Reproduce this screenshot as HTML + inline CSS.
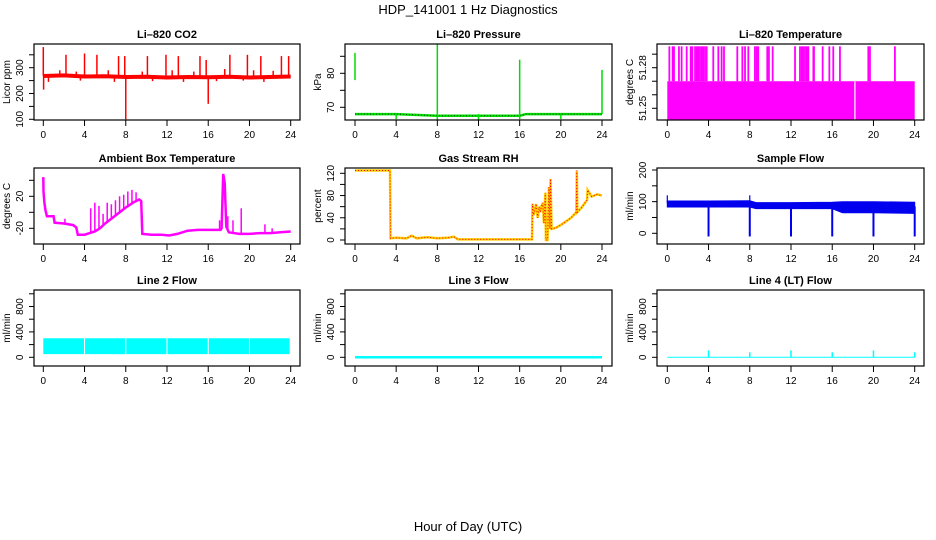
<!DOCTYPE html>
<html><head><meta charset="utf-8">
<style>
body{margin:0;background:#fff;}
svg{display:block;font-family:"Liberation Sans",sans-serif;}
.tk{font-size:10px;fill:#000;}
.ttl{font-size:11px;font-weight:bold;fill:#000;}
</style></head>
<body>
<svg id="chart" width="936" height="540" viewBox="0 0 936 540">
<text x="468" y="14" text-anchor="middle" font-size="13">HDP_141001  1 Hz Diagnostics</text>
<text x="468" y="531" text-anchor="middle" font-size="13">Hour of Day (UTC)</text>
</svg>
<script>
// ---- data ----
const xTicks=[0,4,8,12,16,20,24];
const co2Base=[[0,268],[2,270],[4,266],[6,267],[8,264],[10,265],[12,262],[14,264],[16,263],[18,265],[20,262],[22,264],[24,266]];
const co2SpikeT=[0,0.03,2.2,4,5.2,7.3,7.9,8,10.1,11.9,13.1,15.2,15.8,16,18.1,19.8,21.1,23.1,23.8,1.6,3.2,6.3,9.6,12.5,14.6,17.6,20.4,22.3,0.5,3.6,6.9,10.6,13.6,16.8,19.4,21.4];
const co2SpikeV=[380,215,350,355,350,345,345,100,345,350,345,345,330,160,350,350,345,345,345,290,285,290,285,290,285,295,290,288,245,250,245,248,245,248,250,245];
const presBase=[[0,68],[4,68],[8,67.5],[12,67.5],[16,67.5],[16.6,68],[20,68],[24,68]];
const presSpikeT=[0,8,16,24,4,12,20,8,16];
const presSpikeLo=[78,68,68,68,66.5,66.3,66.5,66.3,66.5];
const presSpikeHi=[86,88.5,84,81,68,68,68,68,68];
const ltLow=51.2417, ltMid=51.27, ltHigh=51.2958;
const ltGapT=[18.2];
const ltSpikeT=[0.2,0.52,0.65,1.13,1.39,1.88,2.27,2.43,2.69,2.85,3.01,3.17,3.33,3.49,3.66,3.82,4.46,4.95,5.27,5.5,6.79,7.28,7.54,7.86,8.5,8.66,8.82,9.7,9.86,10.22,12.39,12.87,13.03,13.2,13.36,13.52,13.68,14.17,14.23,15.07,15.72,16.1,16.75,19.5,19.66,22.08];
const ambT=[0,0.02,0.1,0.2,0.35,1.0,1.1,2.0,2.9,3.2,3.35,4.0,4.5,5.0,5.5,6.0,7.0,8.0,8.7,9.3,9.5,9.6,10.5,11.5,12.2,13.0,14.0,15.0,16.0,17.2,17.3,17.45,17.6,17.75,18.0,19.0,20.0,21.0,22.0,23.0,24.0];
const ambV=[44,26,13,3,-5,-5,-13,-14,-16,-19,-28,-28,-26,-24,-20,-14,-4,6,12,16,14,-27,-28,-28,-29,-27,-23,-22,-22,-22,-20,48,37,-18,-25,-27,-27,-26,-26,-25,-24];
const ambSpikeT=[2.1,4.6,5.0,5.4,5.8,6.2,6.6,7.0,7.4,7.8,8.2,8.6,9.0,17.1,17.9,18.4,19.2,21.5,22.2];
const ambSpikeV=[-8,5,12,8,-2,12,10,15,20,22,26,28,25,-10,-5,-10,5,-15,-20];
const rhT=[0,3.4,3.45,4,5,5.5,6,7,8,9,9.6,10,12,14,16,17.2,17.25,17.35,17.5,17.6,17.75,17.9,18.0,18.1,18.25,18.35,18.5,18.55,18.7,18.85,18.95,19.0,19.1,19.5,20,21,21.5,21.55,21.6,22,22.55,22.6,23,23.5,24];
const rhV=[125,125,3,4,3,8,3,5,3,4,6,1,1,1,1,1,65,45,55,65,40,60,50,60,67,30,85,0,0,95,20,110,20,22,27,40,50,125,50,58,72,90,78,82,80];
const sfT=[0,4,8,8.6,12,16,17,20,24];
const sfLo=[83,83,83,78,78,78,65,65,63];
const sfHi=[102,102,103,97,97,98,100,100,98];
const sfDipT=[4,8,12,16,20,24];
const sfDipV=[-10,-10,-10,-10,-10,-10];
const sfPeakT=[0,8];
const sfPeakV=[120,120];
const l2SegStart=[0,4.05,8.05,12.05,16.05,20.05];
const l2SegEnd=[3.95,7.95,11.95,15.95,19.95,23.9];
const l2Lo=50, l2Hi=300;
const l4SpikeT=[4,8,12,16,20,24];
const l4SpikeV=[110,80,110,80,110,80];

// ---- helpers ----
const svg=document.getElementById('chart');
const NS='http://www.w3.org/2000/svg';
function mk(tag,attrs,parent){const e=document.createElementNS(NS,tag);for(const k in attrs)e.setAttribute(k,attrs[k]);(parent||svg).appendChild(e);return e;}
const cols=[{l:34,r:300,x0:43.3,x24:290.7},{l:345,r:612,x0:355,x24:602},{l:657,r:924,x0:667.3,x24:914.7}];
const rows=[{t:44,b:120},{t:168,b:244},{t:290,b:366}];
function panel(name,ci,ri,title,ylab,yA,pA,yB,pB,ticks,labels,labelX){
  const c=cols[ci],r=rows[ri];
  const g=mk('g',{});
  
  
  const X=h=>c.x0+h/24*(c.x24-c.x0);
  const Y=v=>pA+(v-yA)/(yB-yA)*(pB-pA);
  const t=mk('text',{x:(c.l+c.r)/2,y:r.t-6,'text-anchor':'middle',class:'ttl'},g);t.textContent=title;
  
  
  const data=mk('g',{},g);
  
  
  const box=mk('rect',{x:c.l,y:r.t,width:c.r-c.l,height:r.b-r.t,fill:'none',stroke:'#000','stroke-width':1.2},g);
  
  
  const xa=mk('g',{},g);
  
  
  xTicks.forEach(h=>{mk('line',{x1:X(h),x2:X(h),y1:r.b,y2:r.b+6,stroke:'#000'},xa);
    const tx=mk('text',{x:X(h),y:r.b+18,'text-anchor':'middle',class:'tk'},xa);tx.textContent=h;});
  const ya=mk('g',{},g);
  
  
  ticks.forEach(v=>mk('line',{x1:c.l-5,x2:c.l,y1:Y(v),y2:Y(v),stroke:'#000'},ya));
  labels.forEach((v,i)=>{const s=labelX?labelX[i]:v;const tx=mk('text',{x:c.l-11,y:Y(v),'text-anchor':'middle',class:'tk',transform:`rotate(-90 ${c.l-11} ${Y(v)})`},ya);tx.textContent=s;});
  const yl=mk('text',{x:c.l-24,y:(r.t+r.b)/2,'text-anchor':'middle',class:'tk',transform:`rotate(-90 ${c.l-24} ${(r.t+r.b)/2})`},ya);yl.textContent=ylab;
  
  
  return {X,Y,g:data};
}
function poly(p,pts,stroke,w,extra){const e=mk('polyline',Object.assign({points:pts.map(q=>p.X(q[0]).toFixed(1)+','+p.Y(q[1]).toFixed(1)).join(' '),fill:'none',stroke:stroke,'stroke-width':w},extra||{}),p.g);return e;}
function vline(p,h,v1,v2,stroke,w){return mk('line',{x1:p.X(h),x2:p.X(h),y1:p.Y(v1),y2:p.Y(v2),stroke:stroke,'stroke-width':w},p.g);}
function baseAt(arr,h){for(let i=1;i<arr.length;i++){if(h<=arr[i][0]){const a=arr[i-1],b=arr[i];return a[1]+(b[1]-a[1])*(h-a[0])/(b[0]-a[0]);}}return arr[arr.length-1][1];}

// CO2
let p=panel('co2',0,0,'Li\u2013820 CO2','Licor ppm',100,119.3,300,67.7,[100,150,200,250,300,350],[100,200,300]);
let e=poly(p,co2Base,'#ff0000',4);

co2SpikeT.forEach((h,i)=>{const s=vline(p,h,baseAt(co2Base,h),co2SpikeV[i],'#ff0000',1.5);
});

// Pressure
p=panel('pressure',1,0,'Li\u2013820 Pressure','kPa',70,107.3,80,73.3,[70,75,80,85],[70,80]);
e=poly(p,presBase,'#00dd00',2.5);

poly(p,presBase,'#004400',1,{'stroke-dasharray':'1,2'});
presSpikeT.forEach((h,i)=>{const s=vline(p,h,presSpikeLo[i],presSpikeHi[i],'#00dd00',1.5);
});

// Li temp
p=panel('li-temp',2,0,'Li\u2013820 Temperature','degrees C',51.25,108.3,51.28,67.7,[51.25,51.26,51.27,51.28,51.29],[51.25,51.28]);
e=mk('rect',{x:p.X(0),y:p.Y(ltMid),width:p.X(24)-p.X(0),height:p.Y(ltLow)-p.Y(ltMid),fill:'#ff00ff'},p.g);

ltGapT.forEach(h=>{const s=vline(p,h,ltLow,ltMid,'#ffffff',1.2);
});
ltSpikeT.forEach(h=>{const s=vline(p,h,ltMid,ltHigh,'#ff00ff',1.8);
});

// Ambient
p=panel('ambient',0,1,'Ambient Box Temperature','degrees C',0,212.3,20,196.3,[-20,0,20,40],[-20,20]);
e=poly(p,ambT.map((h,i)=>[h,ambV[i]]),'#ff00ff',2.5);

ambSpikeT.forEach((h,i)=>{let lo=ambV[0];for(let k=1;k<ambT.length;k++){if(h<=ambT[k]){lo=ambV[k-1]+(ambV[k]-ambV[k-1])*(h-ambT[k-1])/(ambT[k]-ambT[k-1]);break;}}
const s=vline(p,h,lo,ambSpikeV[i],'#ff00ff',1.5);
});

// RH
p=panel('rh',1,1,'Gas Stream RH','percent',0,240,120,173.3,[0,20,40,60,80,100,120],[0,40,80,120]);
const rhPts=rhT.map((h,i)=>[h,rhV[i]]);
e=poly(p,rhPts,'#ffcc00',2.5);

poly(p,rhPts,'#ff0000',1,{'stroke-dasharray':'1,2'});

// Sample flow
p=panel('sample-flow',2,1,'Sample Flow','ml/min',0,233.3,200,170,[0,50,100,150,200],[0,100,200]);
const bandPts=sfT.map((h,i)=>[h,sfHi[i]]).concat(sfT.map((h,i)=>[h,sfLo[i]]).reverse());
e=mk('polygon',{points:bandPts.map(q=>p.X(q[0]).toFixed(1)+','+p.Y(q[1]).toFixed(1)).join(' '),fill:'#0000ee',stroke:'#0000ee','stroke-width':1},p.g);

sfDipT.forEach((h,i)=>{const s=vline(p,h,85,sfDipV[i],'#0000ee',2);
});
sfPeakT.forEach((h,i)=>{const s=vline(p,h,95,sfPeakV[i],'#0000ee',1.2);
});

// Line 2
p=panel('line2-flow',0,2,'Line 2 Flow','ml/min',0,357.3,800,306.5,[0,200,400,600,800,1000],[0,400,800]);
l2SegStart.forEach((s,i)=>{const r=mk('rect',{x:p.X(s),y:p.Y(l2Hi),width:p.X(l2SegEnd[i])-p.X(s),height:p.Y(l2Lo)-p.Y(l2Hi),fill:'#00ffff'},p.g);
});

// Line 3
p=panel('line3-flow',1,2,'Line 3 Flow','ml/min',0,357.3,800,306.5,[0,200,400,600,800,1000],[0,400,800]);
e=poly(p,[[0,0],[24,0]],'#00ffff',2.5);


// Line 4
p=panel('line4-flow',2,2,'Line 4 (LT) Flow','ml/min',0,357.3,800,306.5,[0,200,400,600,800,1000],[0,400,800]);
e=poly(p,[[0,0],[24,0]],'#00ffff',1);

l4SpikeT.forEach((h,i)=>{const s=vline(p,h,0,l4SpikeV[i],'#00ffff',1.5);
});
</script>
</body></html>
